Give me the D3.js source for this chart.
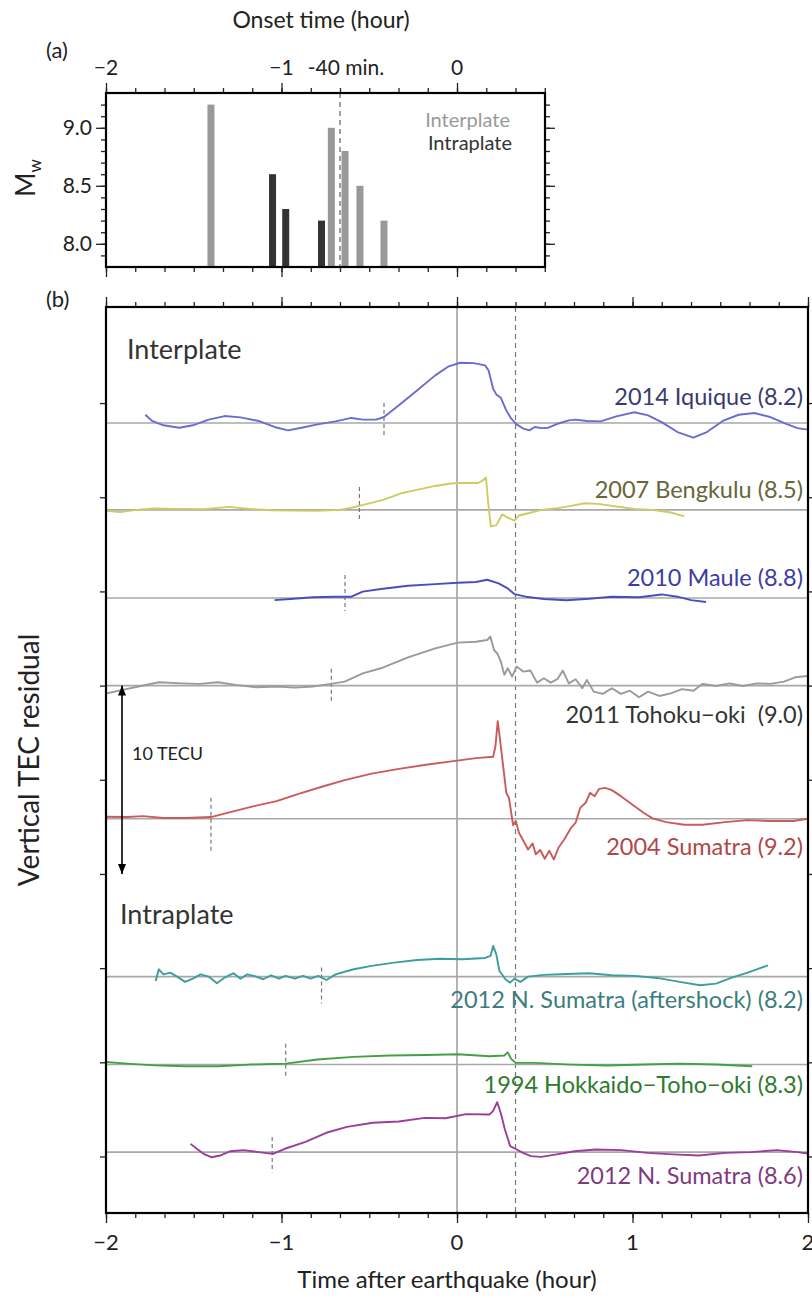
<!DOCTYPE html>
<html>
<head>
<meta charset="utf-8">
<script src="https://cdn.jsdelivr.net/npm/d3@7"></script>
<style>
  body { margin: 0; background: #fff; }
  svg { display: block; font-family: Lato, 'Open Sans', sans-serif; }
</style>
</head>
<body>
<svg id="chart" width="812" height="1298"></svg>
<script>
// ---- panel (a): onset time of the TEC anomaly vs magnitude
const onsetHours = [-1.402, -1.051, -0.976, -0.772, -0.716, -0.638, -0.553, -0.416]
const magnitudes = [9.2, 8.6, 8.3, 8.2, 9.0, 8.8, 8.5, 8.2]
const plateTypes = ['inter', 'intra', 'intra', 'intra', 'inter', 'inter', 'inter', 'inter']
const magTicks = [8.0, 8.5, 9.0]
const onsetTicks = [-2, -1, 0]

// ---- panel (b): vertical TEC residual time series (hour, TECU above own baseline)
const eventNames = [
  '2014 Iquique (8.2)',
  '2007 Bengkulu (8.5)',
  '2010 Maule (8.8)',
  '2011 Tohoku\u2212oki  (9.0)',
  '2004 Sumatra (9.2)',
  '2012 N. Sumatra (aftershock) (8.2)',
  '1994 Hokkaido\u2212Toho\u2212oki (8.3)',
  '2012 N. Sumatra (8.6)'
]
const baselineTecu = [38.94, 34.33, 29.65, 25.0, 17.93, 9.55, 4.88, 0.23]
const eventOnset = [-0.416, -0.556, -0.638, -0.716, -1.402, -0.772, -0.976, -1.053]
const onsetMarkTop = [1.06, 1.22, 1.22, 0.9, 1.11, 0.48, 1.11, 0.8]
const onsetMarkBottom = [-0.74, -0.64, -0.69, -0.95, -1.8, -1.43, -0.74, -1.06]
const timeTicks = [-2, -1, 0, 1, 2]

const iquique = [
  [-1.776, 0.44], [-1.737, 0.11], [-1.673, -0.12], [-1.582, -0.25], [-1.505, -0.12],
  [-1.415, 0.18], [-1.324, 0.37], [-1.234, 0.3], [-1.131, 0.11], [-1.04, -0.21],
  [-0.963, -0.39], [-0.886, -0.25], [-0.795, -0.07], [-0.692, 0.09], [-0.602, 0.27],
  [-0.537, 0.18], [-0.46, 0.18], [-0.416, 0.32], [-0.331, 0.94], [-0.228, 1.73],
  [-0.124, 2.53], [-0.047, 3.01], [0.018, 3.2], [0.095, 3.18], [0.16, 3.06],
  [0.18, 2.79], [0.206, 1.82], [0.224, 1.52], [0.25, 1.34], [0.276, 0.76],
  [0.309, 0.23], [0.34, -0.07], [0.379, -0.3], [0.412, -0.39], [0.443, -0.21],
  [0.482, -0.27], [0.521, -0.25], [0.572, -0.04], [0.637, 0.14], [0.676, 0.18],
  [0.74, 0.11], [0.818, 0.09], [0.908, 0.35], [1.011, 0.57], [1.089, 0.41],
  [1.166, 0.05], [1.256, -0.48], [1.347, -0.78], [1.424, -0.48], [1.514, 0.11],
  [1.605, 0.44], [1.695, 0.53], [1.785, 0.32], [1.876, -0.04], [1.94, -0.27], [2.0, -0.35]
]
const bengkulu = [
  [-2.0, -0.05], [-1.918, -0.12], [-1.828, 0], [-1.724, 0.07], [-1.595, 0.05],
  [-1.44, 0.04], [-1.299, 0.16], [-1.182, 0.05], [-1.053, -0.02], [-0.924, -0.04],
  [-0.795, -0.05], [-0.666, 0], [-0.589, 0.14], [-0.511, 0.32], [-0.421, 0.53],
  [-0.318, 0.88], [-0.228, 1.06], [-0.124, 1.27], [-0.034, 1.4], [0.03, 1.43],
  [0.121, 1.43], [0.147, 1.56], [0.165, 1.72], [0.178, 0.35], [0.193, -0.88],
  [0.224, -0.81], [0.258, -0.23], [0.289, -0.41], [0.327, -0.57], [0.353, -0.3],
  [0.405, -0.18], [0.482, 0], [0.572, 0.09], [0.65, 0.21], [0.727, 0.35],
  [0.805, 0.32], [0.908, 0.18], [1.011, 0.05], [1.114, 0], [1.218, -0.14], [1.295, -0.35]
]
const maule = [
  [-1.04, -0.11], [-0.95, -0.05], [-0.821, 0.04], [-0.692, 0.07], [-0.602, 0.07],
  [-0.537, 0.34], [-0.434, 0.48], [-0.279, 0.65], [-0.124, 0.74], [0.005, 0.81],
  [0.108, 0.85], [0.172, 0.97], [0.237, 0.78], [0.289, 0.51], [0.327, 0.21],
  [0.392, 0.07], [0.495, -0.05], [0.624, -0.12], [0.753, -0.04], [0.882, 0.07],
  [1.037, 0.04], [1.166, 0.19], [1.256, 0.07], [1.334, -0.11], [1.419, -0.21]
]
const tohoku = [
  [-2.0, -0.42], [-1.905, -0.23], [-1.802, -0.02], [-1.698, 0.18], [-1.569, 0.12],
  [-1.466, 0.09], [-1.363, 0.18], [-1.26, 0.04], [-1.144, -0.09], [-1.028, -0.05],
  [-0.924, -0.11], [-0.821, -0.05], [-0.718, 0.09], [-0.64, 0.21], [-0.537, 0.65],
  [-0.434, 0.92], [-0.279, 1.5], [-0.124, 1.98], [0.005, 2.28], [0.108, 2.33],
  [0.172, 2.42], [0.19, 2.6], [0.211, 1.89], [0.231, 1.68], [0.25, 1.27],
  [0.27, 0.57], [0.289, 0.92], [0.314, 0.48], [0.34, 1.01], [0.379, 0.74],
  [0.418, 0.8], [0.456, 0.16], [0.495, 0.39], [0.534, 0.16], [0.572, 0.34],
  [0.603, 0.8], [0.637, 0.12], [0.676, 0.34], [0.714, -0.14], [0.74, 0.3],
  [0.779, -0.32], [0.831, -0.44], [0.882, -0.14], [0.934, -0.44], [0.985, -0.27],
  [1.037, -0.62], [1.089, -0.32], [1.153, -0.55], [1.218, -0.41], [1.282, -0.19],
  [1.347, -0.27], [1.398, 0.09], [1.476, -0.02], [1.553, 0.12], [1.63, -0.02],
  [1.708, 0.12], [1.785, 0.09], [1.863, 0.21], [1.927, 0.44], [2.0, 0.51]
]
const sumatra2004 = [
  [-2.0, 0.11], [-1.879, 0.09], [-1.789, 0.14], [-1.673, 0.04], [-1.544, 0.04],
  [-1.402, 0.09], [-1.286, 0.37], [-1.157, 0.67], [-1.028, 0.94], [-0.898, 1.33],
  [-0.77, 1.7], [-0.64, 2.05], [-0.486, 2.4], [-0.331, 2.65], [-0.176, 2.87],
  [-0.021, 3.06], [0.108, 3.22], [0.206, 3.29], [0.219, 3.85], [0.232, 5.18],
  [0.245, 4.21], [0.263, 2.79], [0.281, 1.38], [0.296, 1.11], [0.309, 0.32],
  [0.32, -0.35], [0.335, -0.12], [0.353, -0.74], [0.379, -1.18], [0.405, -1.63],
  [0.431, -1.31], [0.449, -1.89], [0.474, -1.66], [0.5, -2.12], [0.526, -1.7],
  [0.552, -2.16], [0.578, -1.54], [0.611, -1.1], [0.65, -0.48], [0.676, -0.21],
  [0.702, 0.58], [0.733, 0.85], [0.758, 1.38], [0.784, 1.2], [0.81, 1.59],
  [0.844, 1.64], [0.882, 1.52], [0.934, 1.2], [0.998, 0.76], [1.063, 0.32],
  [1.114, 0.02], [1.192, -0.18], [1.295, -0.32], [1.398, -0.32], [1.527, -0.18],
  [1.656, -0.07], [1.785, -0.12], [1.915, -0.12], [2.0, 0]
]
const sumatraAftershock = [
  [-1.717, -0.23], [-1.699, 0.39], [-1.673, 0.12], [-1.634, 0.21], [-1.595, 0],
  [-1.549, -0.28], [-1.505, -0.11], [-1.461, 0.12], [-1.415, 0], [-1.368, -0.35],
  [-1.324, -0.05], [-1.273, 0.18], [-1.234, -0.11], [-1.195, 0.12], [-1.144, 0],
  [-1.105, -0.14], [-1.059, 0.07], [-1.015, -0.11], [-0.976, 0.04], [-0.924, -0.11],
  [-0.878, 0.04], [-0.834, -0.11], [-0.79, 0.04], [-0.744, -0.18], [-0.692, 0.12],
  [-0.589, 0.39], [-0.486, 0.57], [-0.357, 0.74], [-0.228, 0.88], [-0.099, 0.95],
  [0.03, 0.92], [0.16, 0.99], [0.191, 1.1], [0.206, 1.63], [0.224, 1.18],
  [0.242, 0.3], [0.276, -0.14], [0.302, -0.32], [0.327, -0.11], [0.361, -0.28],
  [0.405, 0], [0.495, 0.09], [0.624, 0.14], [0.753, 0.18], [0.882, 0.07],
  [1.011, 0.04], [1.14, -0.07], [1.269, -0.28], [1.385, -0.46], [1.476, -0.37],
  [1.566, -0.05], [1.656, 0.21], [1.772, 0.6]
]
const hokkaido = [
  [-2.0, 0.14], [-1.879, 0.05], [-1.724, -0.04], [-1.544, -0.09], [-1.363, -0.09],
  [-1.182, 0], [-0.976, 0.05], [-0.795, 0.27], [-0.589, 0.41], [-0.382, 0.48],
  [-0.176, 0.51], [0.005, 0.55], [0.185, 0.44], [0.27, 0.48], [0.289, 0.65],
  [0.309, 0.3], [0.335, 0.09], [0.443, 0.09], [0.65, 0], [0.856, -0.05],
  [1.063, 0], [1.269, 0.05], [1.476, 0], [1.682, -0.09]
]
const sumatra2012 = [
  [-1.518, 0.44], [-1.483, 0.18], [-1.438, -0.12], [-1.4, -0.27], [-1.35, -0.18],
  [-1.291, 0.05], [-1.217, 0.11], [-1.129, 0], [-1.049, -0.09], [-0.981, 0.18],
  [-0.863, 0.55], [-0.745, 1.03], [-0.627, 1.34], [-0.48, 1.56], [-0.332, 1.63],
  [-0.184, 1.82], [-0.066, 1.8], [0.052, 2.02], [0.185, 2.0], [0.205, 2.18],
  [0.229, 2.65], [0.249, 2.09], [0.273, 1.2], [0.303, 0.32], [0.332, 0.18],
  [0.376, -0.04], [0.421, -0.21], [0.48, -0.25], [0.568, -0.12], [0.671, 0.05],
  [0.789, 0.14], [0.937, 0.11], [1.085, -0.04], [1.232, -0.12], [1.379, -0.18],
  [1.527, -0.04], [1.675, 0], [1.822, 0.11], [1.94, 0], [2.0, -0.07]
]
const eventSeries = [iquique, bengkulu, maule, tohoku, sumatra2004, sumatraAftershock, hokkaido, sumatra2012]

// ---- styling / layout
const lineColors = ['#6b6bd0', '#cccc66', '#4c4cbf', '#9a9a9a', '#c85c5c', '#3d9e9e', '#44a044', '#9b3d9b']
const labelColors = ['#3a3a70', '#66663a', '#3c3ca6', '#333333', '#b04848', '#3b7d7d', '#2e7a2e', '#7f3a80']
const labelDy = [-18, -12, -12, 37, 36, 31, 28, 32]

const svg = d3.select('#chart')
const ink = '#222'

const panelA = { left: 106, right: 545, top: 93, bottom: 267 }
const panelB = { left: 106, right: 808, top: 307, bottom: 1213 }

const xA = d3.scaleLinear().domain([-2, 0.5]).range([panelA.left, panelA.left + 2.5 * 175.5])
const yA = d3.scaleLinear().domain([7.8, 9.3]).range([panelA.bottom, panelA.top])
const xB = d3.scaleLinear().domain([-2, 2]).range([panelB.left, panelB.right])
const yB = d3.scaleLinear().domain([-3, 45.1]).range([panelB.bottom, panelB.top])

const minorHours = d3.range(-12, 13).map((i) => i / 6)
const minusFmt = (d) => (d < 0 ? '\u2212' + Math.abs(d) : String(d))

function tickAxis (g, axis) {
  g.call(axis)
  g.select('.domain').remove()
  g.selectAll('line').attr('stroke', ink).attr('stroke-width', 1.3)
  g.selectAll('text').remove()
}

// ================= panel (a) =================
const gA = svg.append('g')

gA.append('g').attr('transform', `translate(0,${panelA.top})`)
  .call(tickAxis, d3.axisTop(xA).tickValues(minorHours.filter((d) => d <= 0.5)).tickSize(5))
gA.append('g').attr('transform', `translate(0,${panelA.top})`)
  .call(tickAxis, d3.axisTop(xA).tickValues(onsetTicks).tickSize(10))
gA.append('g').attr('transform', `translate(0,${panelA.bottom})`)
  .call(tickAxis, d3.axisBottom(xA).tickValues(minorHours.filter((d) => d <= 0.5)).tickSize(5))
gA.append('g').attr('transform', `translate(0,${panelA.bottom})`)
  .call(tickAxis, d3.axisBottom(xA).tickValues(onsetTicks).tickSize(10))

const magMinor = d3.range(79, 93).map((i) => i / 10)
gA.append('g').attr('transform', `translate(${panelA.left},0)`)
  .call(tickAxis, d3.axisLeft(yA).tickValues(magMinor).tickSize(5))
gA.append('g').attr('transform', `translate(${panelA.left},0)`)
  .call(tickAxis, d3.axisLeft(yA).tickValues(magTicks).tickSize(10))
gA.append('g').attr('transform', `translate(${panelA.right},0)`)
  .call(tickAxis, d3.axisRight(yA).tickValues(magMinor).tickSize(5))
gA.append('g').attr('transform', `translate(${panelA.right},0)`)
  .call(tickAxis, d3.axisRight(yA).tickValues(magTicks).tickSize(10))

gA.selectAll('.tick-label-top')
  .data(onsetTicks)
  .enter().append('text')
  .attr('x', (d) => xA(d))
  .attr('y', 75)
  .attr('text-anchor', 'middle')
  .style('font-size', '21px')
  .attr('fill', ink)
  .text(minusFmt)

gA.selectAll('.tick-label-left')
  .data(magTicks)
  .enter().append('text')
  .attr('x', panelA.left - 14)
  .attr('y', (d) => yA(d))
  .attr('dy', '0.36em')
  .attr('text-anchor', 'end')
  .style('font-size', '21px')
  .attr('fill', ink)
  .text((d) => d.toFixed(1))

// -40 min. marker
gA.append('line')
  .attr('x1', xA(-2 / 3)).attr('x2', xA(-2 / 3))
  .attr('y1', panelA.top).attr('y2', panelA.bottom)
  .attr('stroke', '#777').attr('stroke-width', 1.4).attr('stroke-dasharray', '5,4')
gA.append('text')
  .attr('x', xA(-2 / 3) + 6).attr('y', 75)
  .attr('text-anchor', 'middle')
  .style('font-size', '21px').attr('fill', ink)
  .text('-40 min.')

gA.selectAll('.bar')
  .data(onsetHours.map((t, i) => ({ t, m: magnitudes[i], type: plateTypes[i] })))
  .enter().append('rect')
  .attr('x', (d) => xA(d.t) - 3.5)
  .attr('width', 7)
  .attr('y', (d) => yA(d.m))
  .attr('height', (d) => panelA.bottom - yA(d.m))
  .attr('fill', (d) => (d.type === 'inter' ? '#999999' : '#333333'))

gA.append('rect')
  .attr('x', panelA.left).attr('y', panelA.top)
  .attr('width', panelA.right - panelA.left).attr('height', panelA.bottom - panelA.top)
  .attr('fill', 'none').attr('stroke', '#000').attr('stroke-width', 2.2)

gA.append('text').attr('x', 510).attr('y', 127).attr('text-anchor', 'end')
  .style('font-size', '20px').attr('fill', '#999').text('Interplate')
gA.append('text').attr('x', 512).attr('y', 150).attr('text-anchor', 'end')
  .style('font-size', '20px').attr('fill', '#333').text('Intraplate')

svg.append('text').attr('x', 321).attr('y', 28).attr('text-anchor', 'middle')
  .style('font-size', '23px').attr('fill', ink).text('Onset time (hour)')
svg.append('text').attr('x', 46).attr('y', 58)
  .style('font-size', '22px').attr('fill', ink).text('(a)')

const mwLabel = svg.append('text')
  .attr('transform', 'translate(35,178) rotate(-90)')
  .attr('text-anchor', 'middle')
  .style('font-size', '26px').attr('fill', ink)
mwLabel.append('tspan').text('M')
mwLabel.append('tspan').attr('dy', 6).style('font-size', '17px').text('w')

// ================= panel (b) =================
const gB = svg.append('g')

svg.append('defs').append('clipPath').attr('id', 'clipB')
  .append('rect')
  .attr('x', panelB.left).attr('y', panelB.top)
  .attr('width', panelB.right - panelB.left).attr('height', panelB.bottom - panelB.top)

gB.append('g').attr('transform', `translate(0,${panelB.top})`)
  .call(tickAxis, d3.axisTop(xB).tickValues(minorHours).tickSize(5))
gB.append('g').attr('transform', `translate(0,${panelB.top})`)
  .call(tickAxis, d3.axisTop(xB).tickValues(timeTicks).tickSize(10))
gB.append('g').attr('transform', `translate(0,${panelB.bottom})`)
  .call(tickAxis, d3.axisBottom(xB).tickValues(minorHours).tickSize(5))
gB.append('g').attr('transform', `translate(0,${panelB.bottom})`)
  .call(tickAxis, d3.axisBottom(xB).tickValues(timeTicks).tickSize(10))

const tecTicks = d3.range(0, 41, 5)
gB.append('g').attr('transform', `translate(${panelB.left},0)`)
  .call(tickAxis, d3.axisLeft(yB).tickValues(tecTicks).tickSize(6))
gB.append('g').attr('transform', `translate(${panelB.right},0)`)
  .call(tickAxis, d3.axisRight(yB).tickValues(tecTicks).tickSize(6))

gB.selectAll('.tick-label-bottom')
  .data(timeTicks)
  .enter().append('text')
  .attr('x', (d) => xB(d))
  .attr('y', 1250)
  .attr('text-anchor', 'middle')
  .style('font-size', '22px')
  .attr('fill', ink)
  .text(minusFmt)

// reference lines: earthquake time and +20 min
gB.append('line')
  .attr('x1', xB(0)).attr('x2', xB(0))
  .attr('y1', panelB.top).attr('y2', panelB.bottom)
  .attr('stroke', '#a0a0a0').attr('stroke-width', 1.6)
gB.append('line')
  .attr('x1', xB(1 / 3)).attr('x2', xB(1 / 3))
  .attr('y1', panelB.top).attr('y2', panelB.bottom)
  .attr('stroke', '#777').attr('stroke-width', 1.2).attr('stroke-dasharray', '5,4')

// baselines
gB.selectAll('.baseline')
  .data(baselineTecu)
  .enter().append('line')
  .attr('x1', xB(-2)).attr('x2', xB(2))
  .attr('y1', (d) => yB(d)).attr('y2', (d) => yB(d))
  .attr('stroke', '#a8a8a8').attr('stroke-width', 1.6)

// onset marks
gB.selectAll('.onset')
  .data(eventOnset)
  .enter().append('line')
  .attr('x1', (d) => xB(d)).attr('x2', (d) => xB(d))
  .attr('y1', (d, i) => yB(baselineTecu[i] + onsetMarkTop[i]))
  .attr('y2', (d, i) => yB(baselineTecu[i] + onsetMarkBottom[i]))
  .attr('stroke', '#777').attr('stroke-width', 1.2).attr('stroke-dasharray', '4,3')

// TEC curves
const line = d3.line()
  .x((d) => xB(d[0]))
  .y((d) => yB(d[1]))

gB.append('g').attr('clip-path', 'url(#clipB)')
  .selectAll('path')
  .data(eventSeries)
  .enter().append('path')
  .attr('d', (d, i) => line(d.map((p) => [p[0], p[1] + baselineTecu[i]])))
  .attr('fill', 'none')
  .attr('stroke', (d, i) => lineColors[i])
  .attr('stroke-width', 1.9)
  .attr('stroke-linejoin', 'round')

// event labels
gB.selectAll('.event-label')
  .data(eventNames)
  .enter().append('text')
  .attr('x', panelB.right - 5)
  .attr('y', (d, i) => yB(baselineTecu[i]) + labelDy[i])
  .attr('text-anchor', 'end')
  .style('font-size', '23.5px')
  .style('white-space', 'pre')
  .attr('fill', (d, i) => labelColors[i])
  .text((d) => d)

gB.append('rect')
  .attr('x', panelB.left).attr('y', panelB.top)
  .attr('width', panelB.right - panelB.left).attr('height', panelB.bottom - panelB.top)
  .attr('fill', 'none').attr('stroke', '#000').attr('stroke-width', 2.2)

// 10 TECU scale arrow
const arrowX = 122
svg.select('defs').append('marker')
  .attr('id', 'arrowHead')
  .attr('viewBox', '0 0 10 10')
  .attr('refX', 10).attr('refY', 5)
  .attr('markerWidth', 10).attr('markerHeight', 14)
  .attr('markerUnits', 'userSpaceOnUse')
  .attr('orient', 'auto-start-reverse')
  .append('path').attr('d', 'M0,1 L10,5 L0,9 Z').attr('fill', '#000')
gB.append('line')
  .attr('x1', arrowX).attr('x2', arrowX)
  .attr('y1', yB(25)).attr('y2', yB(15))
  .attr('stroke', '#000').attr('stroke-width', 1.6)
  .attr('marker-start', 'url(#arrowHead)')
  .attr('marker-end', 'url(#arrowHead)')
gB.append('text').attr('x', 132).attr('y', 760)
  .style('font-size', '18px').attr('fill', ink).text('10 TECU')

gB.append('text').attr('x', 127).attr('y', 359)
  .style('font-size', '27px').attr('fill', '#333').text('Interplate')
gB.append('text').attr('x', 120).attr('y', 924)
  .style('font-size', '27px').attr('fill', '#333').text('Intraplate')

svg.append('text').attr('x', 46).attr('y', 307)
  .style('font-size', '22px').attr('fill', ink).text('(b)')

svg.append('text')
  .attr('transform', 'translate(39,760) rotate(-90)')
  .attr('text-anchor', 'middle')
  .style('font-size', '28px').attr('fill', ink)
  .text('Vertical TEC residual')

svg.append('text').attr('x', 447).attr('y', 1288).attr('text-anchor', 'middle')
  .style('font-size', '24px').attr('fill', ink).text('Time after earthquake (hour)')
</script>
</body>
</html>
